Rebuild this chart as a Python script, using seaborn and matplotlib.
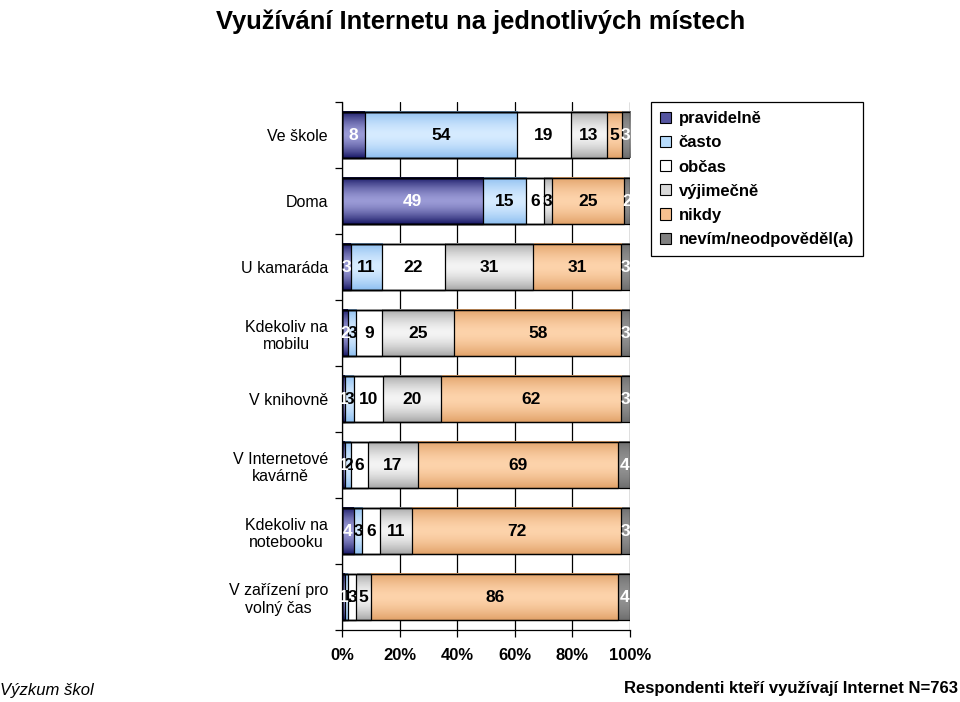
import matplotlib
matplotlib.use('Agg')
import matplotlib.pyplot as plt
import seaborn as sns
import numpy as np
import pandas as pd
from matplotlib.patches import Patch
from matplotlib.colors import to_rgb

categories = ["Ve škole", "Doma", "U kamaráda", "Kdekoliv na\nmobilu", "V knihovně",
              "V Internetové\nkavárně", "Kdekoliv na\nnotebooku", "V zařízení pro\nvolný čas"]
series_names = ["pravidelně", "často", "občas", "výjimečně", "nikdy", "nevím/neodpověděl(a)"]
pravidelne = [8, 49, 3, 2, 1, 1, 4, 1]
casto = [54, 15, 11, 3, 3, 2, 3, 1]
obcas = [19, 6, 22, 9, 10, 6, 6, 3]
vyjimecne = [13, 3, 31, 25, 20, 17, 11, 5]
nikdy = [5, 25, 31, 58, 62, 69, 72, 86]
nevim = [3, 2, 3, 3, 3, 4, 3, 4]
tick_values = [0, 20, 40, 60, 80, 100]
tick_labels = ["0%", "20%", "40%", "60%", "80%", "100%"]

series = [pravidelne, casto, obcas, vyjimecne, nikdy, nevim]
edge_cols = ["#1a1a68", "#8ebff0", "#ffffff", "#a8a8a8", "#e2a36a", "#6e6e6e"]
mid_cols = ["#9a9ad6", "#d6ebff", "#ffffff", "#f4f4f4", "#fdd3ab", "#939393"]
flat_cols = ["#5555a0", "#b8dcfc", "#ffffff", "#d8d8d8", "#f6c090", "#808080"]
text_cols = ["white", "black", "black", "black", "black", "white"]

sns.set_theme(style="white")
plt.rcParams['font.family'] = ['Liberation Sans', 'DejaVu Sans']
for k in ["text.color", "axes.labelcolor", "xtick.color", "ytick.color", "axes.edgecolor"]:
    plt.rcParams[k] = "black"

vals = np.array(series, dtype=float)          # (6, 8)
totals = vals.sum(axis=0)
pct = vals / totals * 100
cum = np.cumsum(pct, axis=0)
lefts = np.vstack([np.zeros(len(categories)), cum[:-1]])

fig = plt.figure(figsize=(9.6, 7.02), dpi=100)
ax = fig.add_axes([342 / 960, 1 - 630 / 702, 288 / 960, 528 / 702])

containers = {}
for i in reversed(range(len(series))):
    df = pd.DataFrame({"cat": categories, "cum": cum[i]})
    sns.barplot(data=df, x="cum", y="cat", orient="h", color=flat_cols[i], saturation=1,
                width=0.71, edgecolor="black", linewidth=0.9, ax=ax, order=categories)
    containers[i] = ax.containers[-1]

N = 64
t = np.abs(np.linspace(-1, 1, N)) ** 1.6
for i, cont in containers.items():
    e = np.array(to_rgb(edge_cols[i]))
    m = np.array(to_rgb(mid_cols[i]))
    grad = (m[None, :] * (1 - t[:, None]) + e[None, :] * t[:, None])[:, None, :]
    for j, p in enumerate(cont.patches):
        p.set_facecolor("none")
        p.set_zorder(3)
        y0 = p.get_y()
        h = p.get_height()
        ax.imshow(grad, extent=[lefts[i, j], p.get_width(), y0 + h, y0], aspect="auto",
                  interpolation="bilinear", zorder=2)
        xc = (lefts[i, j] + p.get_width()) / 2
        ax.text(xc, y0 + h / 2, f"{int(series[i][j])}", ha="center", va="center",
                fontsize=12.5, fontweight="bold", color=text_cols[i], zorder=4)

ax.set_xlim(0, 100)
ax.set_ylim(len(categories) - 0.5, -0.5)
ax.set_xticks(tick_values)
ax.set_xticklabels(tick_labels, fontsize=12, fontweight="bold")
ax.set_xlabel("")
ax.set_ylabel("")
ax.tick_params(axis="y", which="major", length=0, pad=10, labelsize=11.5)
ax.set_yticks(np.arange(-0.5, len(categories), 1), minor=True)
ax.tick_params(axis="y", which="minor", left=True, length=5, width=0.9, color="black", direction="out")
ax.tick_params(axis="x", bottom=True, length=5, width=0.9, color="black", direction="out", pad=8)
for lab in ax.get_yticklabels():
    lab.set_multialignment("center")
ax.set_axisbelow(True)
ax.xaxis.grid(True, color="black", linewidth=0.9)
ax.yaxis.grid(False)
for s in ["top", "right"]:
    ax.spines[s].set_visible(False)
for s in ["left", "bottom"]:
    ax.spines[s].set_color("black")
    ax.spines[s].set_linewidth(0.9)

handles = [Patch(facecolor=flat_cols[i], edgecolor="black", linewidth=0.8, label=series_names[i])
           for i in range(len(series))]
leg = fig.legend(handles=handles, loc="upper left", bbox_to_anchor=(651 / 960, 1 - 102 / 702),
                 frameon=True, fancybox=False, edgecolor="black", framealpha=1,
                 prop={"weight": "bold", "size": 12}, handlelength=0.65, handleheight=0.65,
                 handletextpad=0.45, labelspacing=0.55, borderpad=0.55, borderaxespad=0)
leg.get_frame().set_linewidth(0.9)

fig.text(0.501, 1 - 10 / 702, "Využívání Internetu na jednotlivých místech", ha="center", va="top",
         fontsize=18.4, fontweight="bold")
fig.text(0.0, 1 - 690 / 702, "Výzkum škol", ha="left", va="center", fontsize=12, style="italic")
fig.text(0.998, 1 - 689 / 702, "Respondenti kteří využívají Internet N=763", ha="right", va="center",
         fontsize=12, fontweight="bold")

fig.savefig("out.png", dpi=100)
